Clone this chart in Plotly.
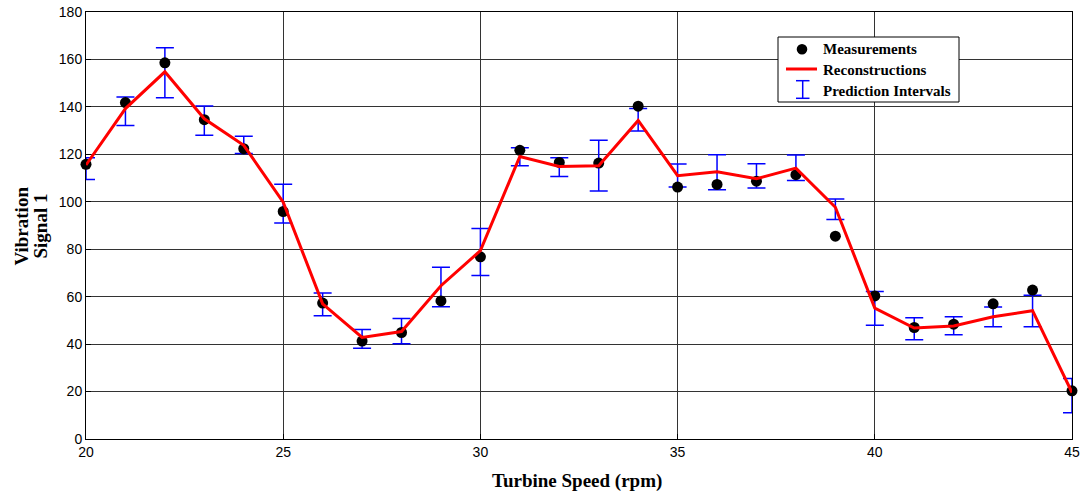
import plotly.graph_objects as go

# ---- data ----
speed = list(range(20, 46))
measurements = [115.8, 141.8, 158.6, 134.6, 122.4, 95.9, 57.3, 41.3, 44.9, 58.2,
                76.8, 121.7, 116.6, 116.3, 140.3, 106.2, 107.3, 108.7, 111.4, 85.5,
                60.3, 47.0, 48.4, 57.0, 62.8, 20.3]
reconstructions = [115.5, 139.3, 154.8, 135.0, 123.8, 99.8, 57.0, 42.8, 45.3, 64.6,
                   79.4, 119.1, 114.9, 115.2, 134.3, 111.0, 112.7, 109.7, 114.2, 97.7,
                   55.2, 46.8, 47.6, 51.5, 54.1, 19.6]
pi_upper = [118.6, 144.2, 164.9, 140.4, 127.6, 107.4, 61.5, 46.2, 50.8, 72.4,
            88.7, 122.8, 118.6, 125.9, 139.3, 115.9, 119.8, 116.0, 119.7, 101.2,
            62.2, 51.1, 51.5, 55.6, 60.6, 25.5]
pi_lower = [109.4, 132.2, 143.8, 128.0, 120.3, 91.1, 52.0, 38.3, 40.1, 55.8,
            68.9, 115.2, 110.7, 104.5, 129.8, 106.2, 105.1, 105.8, 109.0, 92.5,
            48.0, 41.8, 43.9, 47.3, 47.3, 11.1]
x_ticks = [20, 25, 30, 35, 40, 45]
y_ticks = list(range(0, 181, 20))
x_range = [20, 45]
y_range = [0, 180]

W, H = 1083, 494
ML, MR, MT, MB = 86, 11, 12, 55
PW, PH = W - ML - MR, H - MT - MB

def px(x):
    return (x - ML) / PW

def py(y):
    return (H - MB - y) / PH

mid = [(u + l) / 2 for u, l in zip(pi_upper, pi_lower)]
half = [(u - l) / 2 for u, l in zip(pi_upper, pi_lower)]

fig = go.Figure()
# error bars on the main subplot (clipped at the axes)
fig.add_trace(go.Scatter(
    x=speed, y=mid, mode="markers",
    marker=dict(size=1, color="rgba(0,0,0,0)"),
    error_y=dict(type="data", array=half, symmetric=True, color="#0000ff",
                 thickness=1.5, width=9),
    name="Prediction Intervals", showlegend=False, hoverinfo="skip"))
# measurements and reconstructions on an overlaid subplot (drawn above)
fig.add_trace(go.Scatter(
    x=speed, y=measurements, mode="markers", xaxis="x2", yaxis="y2",
    marker=dict(size=11, color="black"), cliponaxis=False,
    name="Measurements", showlegend=False))
fig.add_trace(go.Scatter(
    x=speed, y=reconstructions, mode="lines", xaxis="x2", yaxis="y2",
    line=dict(color="#ff0000", width=3),
    name="Reconstructions", showlegend=False))

axis_common = dict(showline=True, linecolor="black", linewidth=1, mirror=True,
                   showgrid=True, gridcolor="#333333", gridwidth=1,
                   zeroline=False, ticks="inside", ticklen=5, tickcolor="black",
                   automargin=False,
                   tickfont=dict(family="Liberation Sans", size=14, color="black"))
fig.update_layout(
    xaxis=dict(range=x_range, tickvals=x_ticks, **axis_common),
    yaxis=dict(range=y_range, tickvals=y_ticks, **axis_common),
    xaxis2=dict(range=x_range, overlaying="x", visible=False, showgrid=False,
                zeroline=False, automargin=False),
    yaxis2=dict(range=y_range, overlaying="y", visible=False, showgrid=False,
                zeroline=False, automargin=False),
)

# custom legend
shapes = [
    dict(type="rect", xref="paper", yref="paper", x0=px(778), x1=px(959),
         y0=py(102), y1=py(37), fillcolor="white", line=dict(color="black", width=1)),
    dict(type="circle", xref="paper", yref="paper", x0=px(802 - 5.3), x1=px(802 + 5.3),
         y0=py(49.3 + 5.3), y1=py(49.3 - 5.3), fillcolor="black", line=dict(width=0)),
    dict(type="line", xref="paper", yref="paper", x0=px(786), x1=px(817),
         y0=py(69), y1=py(69), line=dict(color="#ff0000", width=3)),
    dict(type="line", xref="paper", yref="paper", x0=px(802.7), x1=px(802.7),
         y0=py(80.7), y1=py(98.3), line=dict(color="#0000ff", width=1.5)),
    dict(type="line", xref="paper", yref="paper", x0=px(796), x1=px(809.5),
         y0=py(80.7), y1=py(80.7), line=dict(color="#0000ff", width=1.5)),
    dict(type="line", xref="paper", yref="paper", x0=px(796), x1=px(809.5),
         y0=py(98.3), y1=py(98.3), line=dict(color="#0000ff", width=1.5)),
]
serif = dict(family="Liberation Serif", color="black")
annotations = []
for label, yy in [("Measurements", 49.3), ("Reconstructions", 70), ("Prediction Intervals", 91)]:
    annotations.append(dict(text="<b>%s</b>" % label, xref="paper", yref="paper",
                            x=px(821), y=py(yy), xanchor="left", yanchor="middle",
                            showarrow=False, font=dict(size=15, **serif)))
annotations.append(dict(text="<b>Turbine Speed (rpm)</b>", xref="paper", yref="paper",
                        x=px(577), y=py(481), xanchor="center", yanchor="middle",
                        showarrow=False, font=dict(size=19, **serif)))
annotations.append(dict(text="<b>Vibration</b>", xref="paper", yref="paper",
                        x=px(20.5), y=py(226), xanchor="center", yanchor="middle",
                        textangle=-90, showarrow=False, font=dict(size=19, **serif)))
annotations.append(dict(text="<b>Signal 1</b>", xref="paper", yref="paper",
                        x=px(39.5), y=py(226), xanchor="center", yanchor="middle",
                        textangle=-90, showarrow=False, font=dict(size=19, **serif)))

fig.update_layout(width=W, height=H, margin=dict(l=ML, r=MR, t=MT, b=MB, pad=0, autoexpand=False),
                  plot_bgcolor="white", paper_bgcolor="white", showlegend=False,
                  shapes=shapes, annotations=annotations)

fig.write_html("out.html")
